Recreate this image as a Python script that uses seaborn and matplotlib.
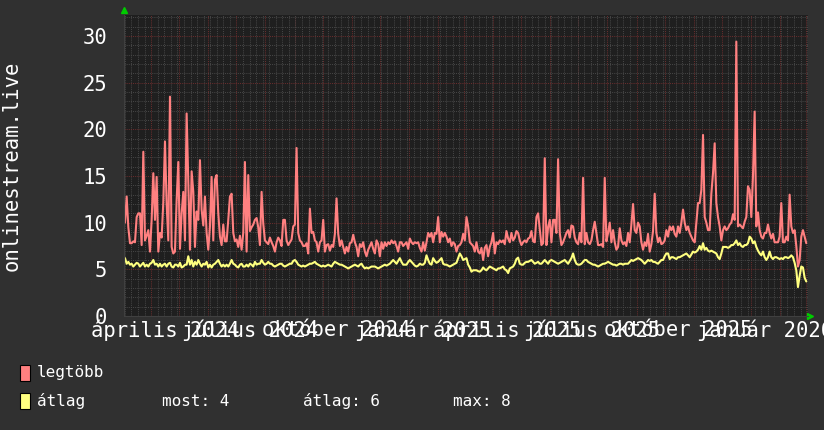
import numpy as np
import pandas as pd
import matplotlib
matplotlib.use('Agg')
import matplotlib.pyplot as plt
import matplotlib.dates as mdates
import matplotlib.ticker as mtick
import matplotlib.transforms as mtrans
from matplotlib.patches import Rectangle
import seaborn as sns

# values, one sample every ~42.7 h
max_seg1 = [10.0, 12.8, 9.5, 7.8, 7.8, 8.0, 7.9, 10.6, 11.0, 11.0,
            7.6, 17.6, 8.1, 8.6, 9.2, 6.9, 10.3, 15.3, 10.3, 14.9,
            6.9, 8.9, 8.4, 12.2, 18.7, 12.0, 8.1, 23.5, 7.4, 6.7,
            6.9, 12.4, 16.5, 7.2, 11.0, 13.3, 8.1, 21.7, 14.2, 7.1,
            15.5, 13.3, 7.4, 11.2, 10.3, 16.7, 11.4, 9.7, 12.8, 8.9,
            7.1, 9.6, 14.9, 8.1, 14.6, 15.1, 11.0, 8.5, 7.6, 9.8,
            8.0, 8.0, 10.3, 12.8, 13.1, 8.9, 8.0, 8.2, 7.4, 8.6,
            7.1, 8.9, 16.5, 6.9, 15.1, 9.1, 9.5, 9.8, 10.3, 10.5,
            9.5]
max_seg2 = [7.6, 13.3, 9.9, 8.1, 7.9, 7.7, 8.4, 7.9, 7.5, 6.9,
            7.9, 8.4, 8.1, 7.5, 10.3, 10.3, 8.1, 7.6, 7.9, 8.2,
            9.6, 9.8, 18.0, 8.9, 8.1, 7.9, 7.5, 7.5, 7.8, 6.7,
            11.5, 8.9, 9.0, 8.1, 7.9, 6.9, 7.9, 8.1, 10.3, 6.9,
            7.6, 7.7, 7.0, 7.6, 7.4, 8.8, 12.6, 8.8, 7.5, 8.1,
            7.4, 6.7, 7.4, 6.9, 7.8, 7.9, 8.7, 7.9, 7.4, 6.4,
            7.7, 7.4, 7.9, 6.9, 6.4, 7.1, 7.5, 7.9, 7.2, 6.7,
            8.1, 7.7, 6.4, 7.9, 7.2, 7.9, 7.5, 7.9, 7.7, 8.1]
max_seg3 = [7.8, 8.0, 7.5, 6.9, 7.9, 7.9, 7.5, 7.7, 7.9, 7.2,
            8.3, 7.9, 7.7, 7.9, 7.8, 7.9, 7.3, 6.9, 7.9, 7.0,
            7.9, 8.9, 8.5, 8.9, 7.9, 8.9, 8.8, 10.6, 7.9, 9.0,
            8.5, 8.9, 8.5, 7.9, 8.3, 7.5, 7.9, 7.7, 6.9, 7.5,
            7.6, 7.9, 8.8, 8.1, 10.6, 9.6, 7.9, 7.7, 7.5, 6.9,
            7.9, 6.9, 6.7, 7.3, 6.0, 7.3, 7.6, 6.4, 7.4, 7.9,
            8.9, 6.7, 7.9, 7.7, 8.1, 7.9, 8.1, 7.7, 9.1, 8.3,
            7.9, 8.9, 8.1, 8.4, 9.1, 8.9, 8.1, 7.6, 7.9, 8.1,
            7.9]
max_seg4 = [8.3, 8.4, 9.1, 8.0, 7.9, 10.6, 11.0, 9.3, 7.6, 7.8,
            16.9, 7.6, 9.5, 10.3, 7.9, 10.3, 10.3, 8.9, 16.8, 8.9,
            7.6, 7.9, 8.4, 8.9, 9.2, 8.4, 9.7, 9.6, 8.4, 7.9,
            7.7, 8.9, 7.9, 14.8, 7.7, 8.9, 7.9, 7.7, 8.1, 9.2,
            10.1, 8.9, 7.6, 7.6, 7.7, 7.4, 14.8, 8.0, 8.9, 10.0,
            7.9, 9.2, 7.9, 7.1, 7.4, 9.4, 8.1, 7.7, 7.9, 7.5,
            8.9, 7.9, 9.8, 12.0, 9.2, 8.9, 10.0, 9.6, 7.9, 7.1,
            7.9, 7.5, 8.8, 6.9, 7.7, 9.1, 13.1, 8.9, 7.9, 8.4,
            7.7]
max_seg5 = [7.8, 8.1, 9.2, 8.5, 9.6, 9.2, 9.6, 8.8, 8.5, 9.6,
            8.9, 10.0, 11.4, 10.0, 9.2, 9.6, 8.9, 8.5, 8.1, 7.9,
            10.0, 12.1, 12.1, 13.5, 19.4, 10.6, 10.0, 9.2, 9.2, 13.1,
            15.3, 18.5, 12.1, 10.6, 9.6, 8.1, 9.2, 9.6, 9.2, 9.4,
            9.8, 10.0, 10.9, 10.3, 29.4, 9.6, 9.8, 9.6, 9.4, 10.1,
            10.6, 13.9, 13.5, 10.6, 15.0, 21.9, 9.6, 11.1, 9.2, 8.5,
            8.3, 8.9, 8.9, 9.8, 8.9, 8.3, 8.8, 7.9, 7.9, 7.9,
            8.5, 12.1, 7.9, 7.9, 8.5, 8.1, 13.0, 9.6, 8.9, 9.2,
            7.5, 5.3, 6.0, 8.5, 9.2, 8.5, 7.8]

avg_seg1 = [6.2, 5.6, 5.8, 5.5, 5.6, 5.3, 5.5, 5.7, 5.6, 5.3,
            5.5, 5.7, 5.3, 5.5, 5.3, 5.6, 5.7, 6.0, 5.5, 5.6,
            5.3, 5.6, 5.3, 5.5, 5.6, 5.3, 5.6, 5.7, 5.3, 5.2,
            5.5, 5.5, 5.3, 5.7, 5.2, 5.3, 5.5, 5.5, 6.4, 5.5,
            6.0, 5.3, 5.8, 5.5, 6.0, 5.6, 5.3, 5.6, 5.5, 5.8,
            5.2, 5.5, 5.2, 5.5, 5.6, 5.8, 6.0, 5.6, 5.3, 5.5,
            5.3, 5.5, 5.3, 5.6, 6.0, 5.6, 5.5, 5.3, 5.2, 5.5,
            5.6, 5.3, 5.3, 5.5, 5.3, 5.6, 5.5, 5.3, 5.8, 5.5,
            5.6]
avg_seg2 = [5.6, 6.0, 5.7, 5.5, 5.6, 5.8, 5.6, 5.6, 5.4, 5.3,
            5.4, 5.5, 5.6, 5.6, 5.4, 5.3, 5.4, 5.5, 5.6, 5.6,
            5.9, 6.0, 5.8, 5.5, 5.4, 5.3, 5.4, 5.3, 5.4, 5.5,
            5.6, 5.6, 5.7, 5.8, 5.6, 5.5, 5.4, 5.3, 5.4, 5.3,
            5.4, 5.5, 5.4, 5.3, 5.6, 5.8, 5.7, 5.6, 5.5, 5.5,
            5.4, 5.3, 5.2, 5.1, 5.2, 5.3, 5.4, 5.5, 5.4, 5.3,
            5.5, 5.6, 5.3, 5.1, 5.2, 5.1, 5.2, 5.3, 5.3, 5.3,
            5.2, 5.1, 5.2, 5.3, 5.4, 5.5, 5.4, 5.5, 5.6, 5.8]
avg_seg3 = [6.0, 5.8, 5.6, 5.9, 6.2, 5.8, 5.5, 5.5, 5.5, 5.8,
            6.0, 5.8, 5.6, 5.4, 5.3, 5.4, 5.6, 5.5, 5.5, 5.7,
            6.5, 6.0, 5.6, 5.5, 6.2, 5.9, 5.7, 5.8, 6.0, 6.2,
            5.6, 5.5, 5.5, 5.4, 5.3, 5.4, 5.5, 5.6, 5.7, 6.2,
            6.7, 6.4, 6.0, 6.1, 6.2, 5.5, 5.2, 4.75, 4.9, 4.9,
            4.9, 4.8, 4.75, 4.9, 5.2, 5.0, 4.9, 5.1, 5.3, 5.2,
            5.1, 5.0, 4.9, 5.1, 5.1, 5.2, 5.3, 5.0, 4.9, 4.6,
            5.1, 5.2, 5.3, 5.6, 6.1, 6.25, 5.6, 5.5, 5.5, 5.7,
            5.8]
avg_seg4 = [5.8, 5.9, 6.0, 5.8, 5.6, 5.7, 5.8, 5.6, 5.6, 5.8,
            6.0, 5.8, 5.6, 5.9, 6.0, 5.9, 5.8, 5.7, 5.6, 5.7,
            5.8, 5.9, 6.0, 5.8, 5.6, 5.9, 6.2, 6.7, 6.0, 5.6,
            5.5, 5.5, 5.6, 5.8, 6.0, 6.0, 5.8, 5.7, 5.6, 5.5,
            5.5, 5.4, 5.3, 5.4, 5.5, 5.6, 5.6, 5.7, 5.8, 5.7,
            5.6, 5.5, 5.5, 5.4, 5.5, 5.6, 5.6, 5.5, 5.6, 5.6,
            5.6, 5.8, 6.0, 5.9, 6.0, 6.1, 6.2, 6.1, 6.0, 5.8,
            5.6, 5.8, 6.0, 5.9, 6.0, 5.8, 5.8, 5.7, 5.6, 5.8,
            6.0]
avg_seg5 = [6.0, 6.4, 6.7, 6.7, 6.1, 6.3, 6.3, 6.2, 6.1, 6.3,
            6.3, 6.4, 6.5, 6.6, 6.7, 6.5, 6.3, 6.6, 6.9, 6.8,
            6.9, 7.1, 7.5, 7.1, 7.8, 7.1, 7.3, 7.0, 6.9, 7.0,
            6.9, 6.8, 6.7, 6.3, 6.1, 6.7, 7.4, 7.4, 7.4, 7.3,
            7.4, 7.6, 7.6, 7.8, 8.1, 7.6, 7.8, 7.5, 7.4, 7.6,
            7.6, 7.8, 8.5, 8.3, 7.8, 8.0, 7.4, 7.0, 6.7, 6.5,
            6.9, 6.3, 6.0, 6.3, 6.9, 6.3, 6.1, 6.3, 6.3, 6.2,
            6.1, 6.2, 6.1, 6.3, 6.3, 6.2, 6.3, 6.5, 6.3, 5.7,
            4.9, 3.1, 4.3, 5.3, 5.2, 4.1, 3.7]

legtobb = max_seg1 + max_seg2 + max_seg3 + max_seg4 + max_seg5
atlag = avg_seg1 + avg_seg2 + avg_seg3 + avg_seg4 + avg_seg5
times = pd.date_range('2024-03-04 01:30', periods=len(legtobb), freq='2560min')

x_start, x_end = pd.Timestamp('2024-03-03'), pd.Timestamp('2026-03-03')
label_dates = ['2024-04-16', '2024-07-16', '2024-10-16', '2025-01-16',
               '2025-04-16', '2025-07-16', '2025-10-16', '2026-01-16']
label_texts = ['április 2024', 'július 2024', 'október 2024', 'január 2025',
               'április 2025', 'július 2025', 'október 2025', 'január 2026']

df = pd.DataFrame({'time': times, 'legtöbb': legtobb, 'átlag': atlag})

#colors
bg_fig = '#303030'
bg_ax = '#1f1f1f'
c_max = '#ff8080'
c_avg = '#ffff80'

sns.set_style('dark')
plt.rcParams['font.family'] = ['DejaVu Sans Mono', 'DejaVu Sans']

fig = plt.figure(figsize=(8.24, 4.30), dpi=100, facecolor=bg_fig)
ax = fig.add_axes([124/824, 1-316/430, 684/824, 301/430])
ax.set_facecolor(bg_ax)

sns.lineplot(data=df, x='time', y='legtöbb', ax=ax, color=c_max, lw=1.5, legend=False)
sns.lineplot(data=df, x='time', y='átlag', ax=ax, color=c_avg, lw=1.5, legend=False)

ax.set_xlim(x_start, x_end)
ax.set_ylim(0, 32.25)
ax.set_xlabel('')
ax.set_ylabel('')

# y grid: minor every 1, major every 5
ax.yaxis.set_major_locator(mtick.MultipleLocator(5))
ax.yaxis.set_minor_locator(mtick.MultipleLocator(1))
# x grid: weekly minor, monthly major
ax.xaxis.set_major_locator(mdates.MonthLocator())
ax.xaxis.set_minor_locator(mdates.WeekdayLocator(byweekday=mdates.MO))
ax.xaxis.set_major_formatter(mtick.NullFormatter())

ax.grid(which='minor', color='#484848', linestyle=(0, (1, 1.2)), lw=0.7)
ax.grid(which='major', color='#6e2e2e', linestyle=(0, (1, 1.2)), lw=0.7)
ax.set_axisbelow(True)

ax.tick_params(axis='y', which='both', length=0, labelsize=14.8, labelcolor='white', pad=12)
ax.tick_params(axis='x', which='major', length=3, color='#aa3a3a', direction='out')
ax.tick_params(axis='x', which='minor', length=0)

for s in ['top', 'right']:
    ax.spines[s].set_visible(False)
for s in ['left', 'bottom']:
    ax.spines[s].set_color('#404040')
    ax.spines[s].set_linewidth(0.8)

# x labels (centered mid-month, like the original)
trans = mtrans.blended_transform_factory(ax.transData, ax.transAxes)
for d, lab in zip(label_dates, label_texts):
    ax.text(pd.Timestamp(d), -0.047, lab, transform=trans, ha='center', va='center',
            fontsize=14.8, color='white', clip_on=False)

# axis arrows
ax.plot([0], [1.017], marker='^', ms=5, color='#00cc00', transform=ax.transAxes, clip_on=False)
ax.plot([1.003], [0], marker='>', ms=5, color='#00cc00', transform=ax.transAxes, clip_on=False)

fig.text(12/824, 1-165.5/430, 'onlinestream.live', rotation=90, ha='center', va='center',
         fontsize=14.8, color='white')

# legend
for yy, col, lab in [(373, c_max, 'legtöbb'), (401, c_avg, 'átlag')]:
    fig.patches.append(Rectangle((20/824, 1-(yy+8)/430), 10/824, 16/430, transform=fig.transFigure,
                                 facecolor=col, edgecolor='black', lw=0.8))
    fig.text(37/824, 1-yy/430, lab, ha='left', va='center', fontsize=11.5, color='white')

fig.text(162/824, 1-401/430, 'most: 4', ha='left', va='center', fontsize=11.5, color='white')
fig.text(303/824, 1-401/430, 'átlag: 6', ha='left', va='center', fontsize=11.5, color='white')
fig.text(453/824, 1-401/430, 'max: 8', ha='left', va='center', fontsize=11.5, color='white')

plt.savefig('out.png', dpi=100, facecolor=bg_fig)
